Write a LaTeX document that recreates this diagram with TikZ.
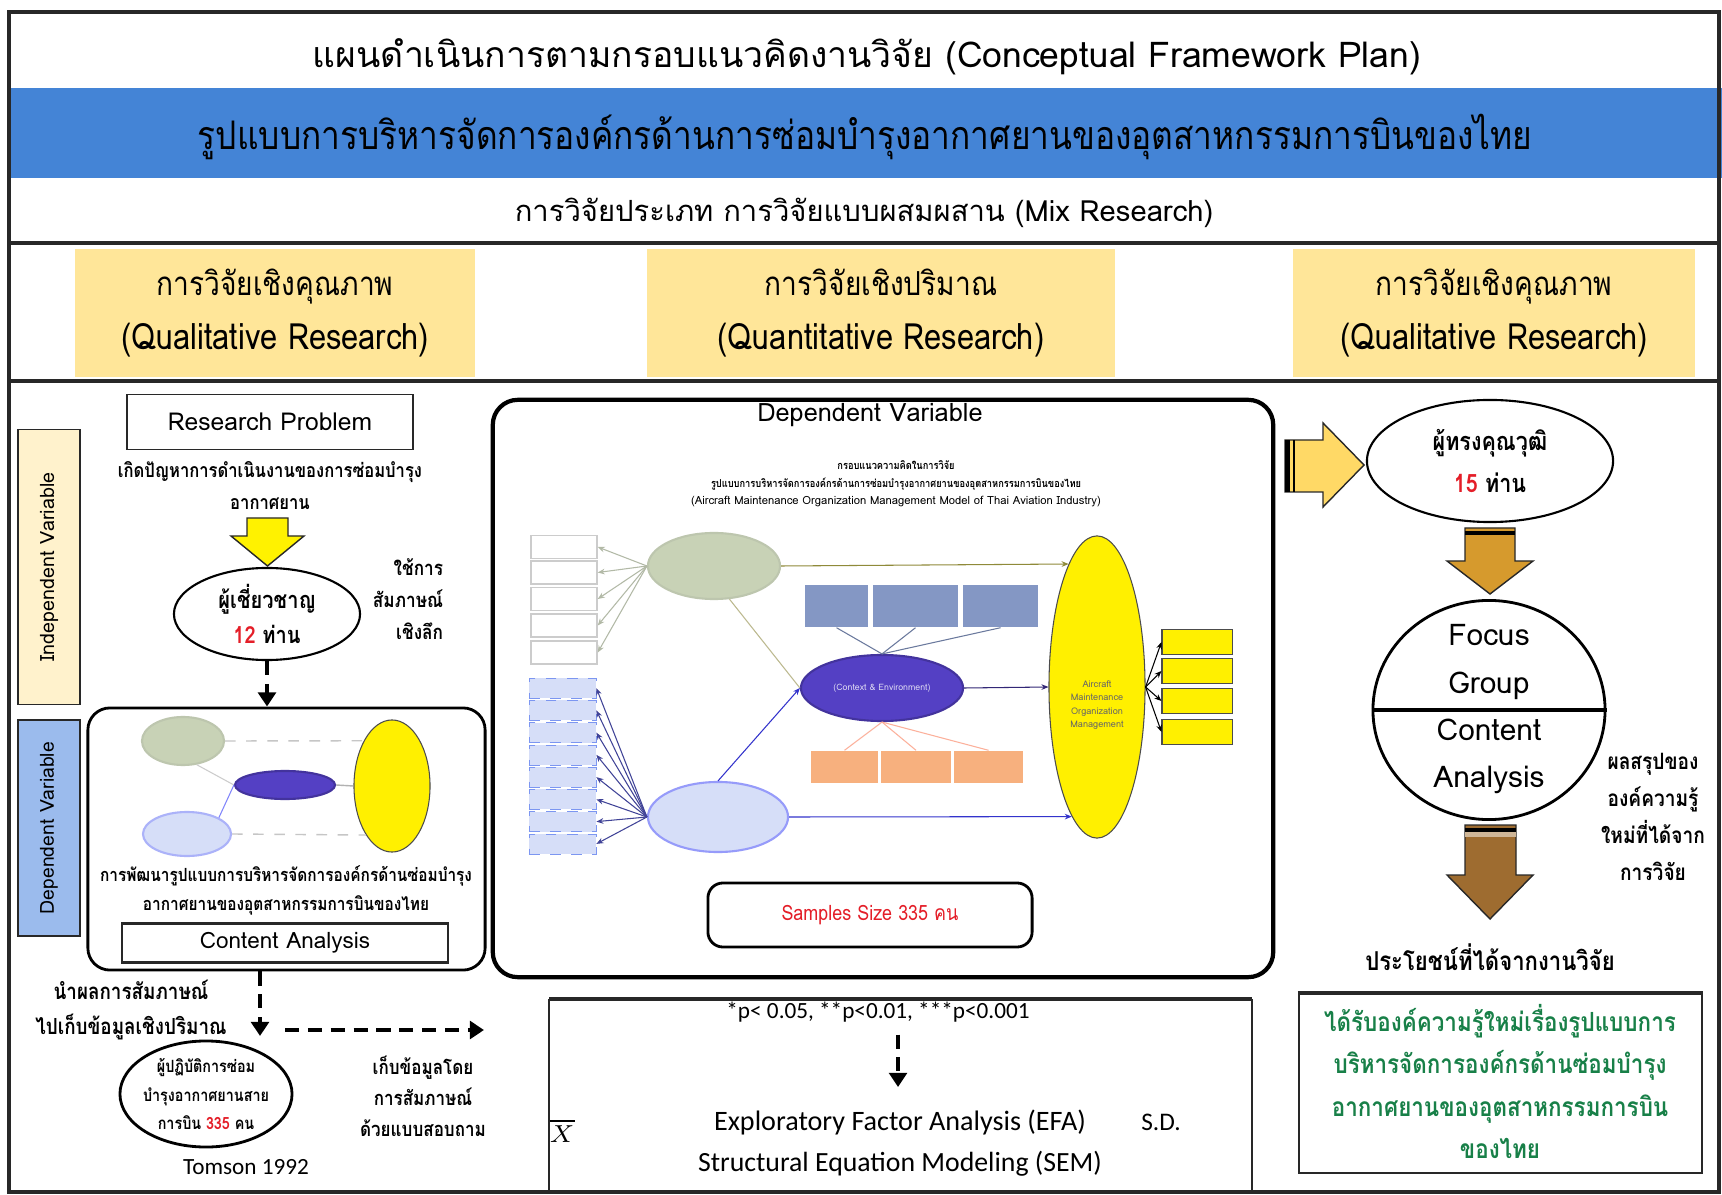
\documentclass[tikz,border=0pt]{standalone}
\usepackage{fontspec}
\setmainfont[Script=Thai]{Loma}
\newfontfamily\narrowthai[Script=Thai,FakeStretch=0.85]{Loma}
\newfontfamily\calfont{Carlito}
\usetikzlibrary{shapes.geometric,arrows.meta,positioning}
\definecolor{bandblue}{RGB}{68,132,214}
\definecolor{headyellow}{RGB}{255,230,153}
\definecolor{indcream}{RGB}{255,242,204}
\definecolor{depblue}{RGB}{155,187,237}
\definecolor{arrowgold}{RGB}{255,217,102}
\definecolor{arroworange}{RGB}{214,154,45}
\definecolor{arrowbrown}{RGB}{158,108,48}
\definecolor{numred}{RGB}{228,30,40}
\definecolor{textgreen}{RGB}{24,128,72}
\definecolor{sage}{RGB}{200,210,182}
\definecolor{ctxviolet}{RGB}{84,64,196}
\definecolor{lavender}{RGB}{214,222,248}
\definecolor{slate}{RGB}{132,151,196}
\definecolor{peach}{RGB}{247,176,126}
\definecolor{brightyellow}{RGB}{255,240,0}
\definecolor{framegray}{RGB}{40,40,40}
\newcommand\fsz[2]{\fontsize{#1}{#2}\selectfont}
\begin{document}
\begin{tikzpicture}[x=0.01cm,y=-0.01cm,
    headbox/.style={fill=headyellow,minimum width=4cm,minimum height=1.27cm,align=center,font=\narrowthai\fsz{10}{15.6}},
    plainbox/.style={draw=framegray,line width=0.5pt,inner sep=0pt},
    oval/.style={ellipse,draw=black,line width=0.6pt,inner sep=0pt},
    dasharrow/.style={line width=1.4pt,dash pattern=on 4pt off 2.5pt,-{Triangle[length=4pt,width=5pt]}},
    miniarrow/.style={line width=0.3pt,-{Stealth[length=2pt,width=1.6pt]}},
    wbox/.style={draw=gray!40,fill=white,minimum width=0.66cm,minimum height=0.23cm,inner sep=0pt},
    bbox/.style={draw=depblue!80!blue,dashed,line width=0.2pt,fill=lavender,minimum width=0.67cm,minimum height=0.2cm,inner sep=0pt},
    sbox/.style={fill=slate,minimum height=0.42cm,inner sep=0pt},
    pbox/.style={fill=peach,minimum height=0.32cm,inner sep=0pt},
    ybox/.style={draw=black!70,line width=0.3pt,fill=brightyellow,minimum width=0.7cm,minimum height=0.25cm,inner sep=0pt},
    blockarrow/.style={draw=framegray,line width=0.4pt}
  ]
  \useasboundingbox (0,0) rectangle (1722,1195);
  \fill[white] (0,0) rectangle (1722,1195);

  %% header rows
  \fill[bandblue] (9,88) rectangle (1722,178);
  \draw[framegray,line width=1pt] (9,12) rectangle (1719,1192);
  \draw[framegray,line width=0.9pt] (9,243) -- (1719,243);
  \draw[framegray,line width=0.9pt] (9,381) -- (1719,381);
  \node (title) at (867,57) {\fsz{10.1}{12}แผนดำเนินการตามกรอบแนวคิดงานวิจัย (Conceptual Framework Plan)};
  \node (topic) at (865,137) {\narrowthai\fsz{11.2}{14}รูปแบบการบริหารจัดการองค์กรด้านการซ่อมบำรุงอากาศยานของอุตสาหกรรมการบินของไทย};
  \node (rtype) at (864,213) {\fsz{8.3}{10}การวิจัยประเภท การวิจัยแบบผสมผสาน (Mix Research)};
  \node[headbox] (qual1) at (275,313) {{\fsz{9.4}{15.6}การวิจัยเชิงคุณภาพ}\\{\fsz{10.3}{15.6}(Qualitative Research)}};
  \node[headbox,minimum width=4.67cm] (quan) at (881,313) {{\fsz{9.4}{15.6}การวิจัยเชิงปริมาณ}\\{\fsz{10.3}{15.6}(Quantitative Research)}};
  \node[headbox,minimum width=4.02cm] (qual2) at (1494,313) {{\fsz{9.4}{15.6}การวิจัยเชิงคุณภาพ}\\{\fsz{10.3}{15.6}(Qualitative Research)}};

  %% left column
  \node[plainbox,fill=indcream,minimum width=0.62cm,minimum height=2.75cm] (indep) at (49,567) {};
  \node[rotate=90,font=\fsz{5.6}{7}] at (indep) {Independent Variable};
  \node[plainbox,fill=depblue,minimum width=0.62cm,minimum height=2.16cm] (dep) at (49,828) {};
  \node[rotate=90,font=\fsz{5.5}{7}] at (dep) {Dependent Variable};
  \node[plainbox,minimum width=2.86cm,minimum height=0.55cm,font=\fsz{7}{8}] (rp) at (270,422) {Research Problem};
  \node[align=center,font=\narrowthai\bfseries\fsz{5.55}{9.1}] (prob) at (270,486) {เกิดปัญหาการดำเนินงานของการซ่อมบำรุง\\อากาศยาน};
  \filldraw[blockarrow,fill=yellow] (247,518) -- (288,518) -- (288,536) -- (304,536) -- (267.5,566) -- (231,536) -- (247,536) -- cycle;
  \node[oval,minimum width=1.86cm,minimum height=0.92cm] (expert) at (267,614) {};
  \node[align=center,font=\narrowthai\bfseries\fsz{6.7}{10}] at (expert) {ผู้เชี่ยวชาญ\\\textcolor{numred}{12} ท่าน};
  \node[align=right,font=\narrowthai\bfseries\fsz{5.75}{9}] (interview) at (408,599) {ใช้การ\\สัมภาษณ์\\เชิงลึก};
  \node[draw=black,line width=0.8pt,rounded corners=0.22cm,minimum width=3.97cm,minimum height=2.62cm] (cbox) at (286.5,839) {};
  \draw[dasharrow] (expert.south) -- (expert.south |- cbox.north);
  %% small model
  \node[oval,draw=sage!85!gray,fill=sage,minimum width=0.82cm,minimum height=0.48cm] (sg2) at (183,741) {};
  \node[oval,draw=ctxviolet!80!black,fill=ctxviolet,minimum width=1cm,minimum height=0.28cm] (pu2) at (285,785) {};
  \node[oval,draw=lavender!80!blue,fill=lavender,minimum width=0.88cm,minimum height=0.44cm] (lv2) at (187,834) {};
  \node[oval,draw=black!70,line width=0.3pt,fill=brightyellow,minimum width=0.76cm,minimum height=1.32cm] (ye2) at (392,786) {};
  \draw[gray!45,line width=0.4pt,dashed] (sg2.east) -- (ye2.122);
  \draw[gray!45,line width=0.4pt,dashed] (lv2.east) -- (ye2.242);
  \draw[gray!40,line width=0.3pt] (sg2.-60) -- (pu2.west);
  \draw[lavender!60!blue,line width=0.3pt] (lv2.north east) -- (pu2.west);
  \draw[gray!60,line width=0.4pt] (pu2.east) -- (ye2.west);
  \node[align=center,font=\narrowthai\bfseries\fsz{5.15}{8.25}] (devtxt) at (286,890) {การพัฒนารูปแบบการบริหารจัดการองค์กรด้านซ่อมบำรุง\\อากาศยานของอุตสาหกรรมการบินของไทย};
  \node[plainbox,line width=0.6pt,minimum width=3.26cm,minimum height=0.39cm,font=\fsz{6.4}{8}] (ca) at (285,943) {Content Analysis};
  %% to the survey
  \node[align=center,font=\narrowthai\bfseries\fsz{6.3}{10}] (sumtxt) at (131,1010) {นำผลการสัมภาษณ์\\ไปเก็บข้อมูลเชิงปริมาณ};
  \coordinate (dropend) at (260,1036);
  \draw[dasharrow] (cbox.south -| dropend) -- (dropend);
  \coordinate (hstart) at (285,1030);
  \coordinate (hend) at (484,1030);
  \draw[dasharrow] (hstart) -- (hend);
  \node[oval,line width=0.8pt,minimum width=1.72cm,minimum height=1.06cm] (oper) at (206,1094) {};
  \node[align=center,font=\narrowthai\bfseries\fsz{4.8}{8}] at (oper) {ผู้ปฏิบัติการซ่อม\\บำรุงอากาศยานสาย\\การบิน \textcolor{numred}{335} คน};
  \node[align=center,font=\narrowthai\bfseries\fsz{5.7}{8.8}] (collect) at (423,1096) {เก็บข้อมูลโดย\\การสัมภาษณ์\\ด้วยแบบสอบถาม};
  \node[font=\calfont\fsz{6.6}{8}] (tomson) at (246,1167) {Tomson 1992};

  %% centre: dependent variable
  \node[draw=black,line width=1.2pt,rounded corners=0.25cm,minimum width=7.8cm,minimum height=5.77cm] (dvbox) at (883,688.5) {};
  \node[font=\fsz{7.2}{8}] (dvtitle) at (870,415) {Dependent Variable};
  \node[align=center,font=\fsz{3.2}{5}] (mtitle) at (896,484) {{\narrowthai\bfseries\fsz{3.1}{5}กรอบแนวความคิดในการวิจัย}\\{\narrowthai\bfseries\fsz{3.1}{5}รูปแบบการบริหารจัดการองค์กรด้านการซ่อมบำรุงอากาศยานของอุตสาหกรรมการบินของไทย}\\(Aircraft Maintenance Organization Management Model of Thai Aviation Industry)};
  \node[oval,draw=sage!85!gray,fill=sage,minimum width=1.32cm,minimum height=0.66cm] (sg) at (714,566) {};
  \node[oval,draw=ctxviolet!80!black,fill=ctxviolet,minimum width=1.62cm,minimum height=0.66cm] (pu) at (882,688) {};
  \node[font=\fsz{2.5}{3},text=white!80!ctxviolet] at (pu) {(Context \& Environment)};
  \node[oval,draw=lavender!70!blue,fill=lavender,minimum width=1.4cm,minimum height=0.7cm] (lv) at (718,817) {};
  \node[oval,draw=black!70,line width=0.3pt,fill=brightyellow,minimum width=0.96cm,minimum height=3.02cm] (ye) at (1097,687) {};
  \node[align=center,font=\fsz{2.6}{3.8},text=black!60] at (1097,705) {Aircraft\\Maintenance\\Organization\\Management};
  \foreach \i/\y in {1/547,2/572.5,3/599,4/625.5,5/652.5} {
    \node[wbox] (w\i) at (564,\y) {};
    \draw[miniarrow,sage!70!gray] (sg.west) -- (w\i.east);
  }
  \foreach \i in {1,...,8} {
    \node[bbox] (b\i) at (562.5,{677+22.25*(\i-0.5)}) {};
    \draw[miniarrow,blue!50!lavender!60!black] (lv.west) -- (b\i.east);
  }
  \node[sbox,minimum width=0.63cm] (sl1) at (836.5,606) {};
  \node[sbox,minimum width=0.85cm] (sl2) at (915.5,606) {};
  \node[sbox,minimum width=0.75cm] (sl3) at (1000.5,606) {};
  \node[pbox,minimum width=0.67cm] (or1) at (844.5,767) {};
  \node[pbox,minimum width=0.70cm] (or2) at (916,767) {};
  \node[pbox,minimum width=0.69cm] (or3) at (988.5,767) {};
  \foreach \i in {1,2,3} {
    \draw[line width=0.3pt,slate!80!black] (pu.north) -- (sl\i.south);
    \draw[line width=0.3pt,peach!70!red!60] (pu.south) -- (or\i.north);
  }
  \foreach \i/\y in {1/642,2/671,3/701,4/732} {
    \node[ybox] (yb\i) at (1197,\y) {};
    \draw[miniarrow,black] (ye.east) -- (yb\i.west);
  }
  \draw[miniarrow,olive!60!gray] (sg.east) -- (ye.103);
  \draw[line width=0.3pt,olive!40!gray!60] (sg.-65) -- (pu.west);
  \draw[miniarrow,blue!60!gray] (lv.north) -- (pu.west);
  \draw[miniarrow,blue!60!gray] (lv.east) -- (ye.259);
  \draw[miniarrow,ctxviolet!60!black] (pu.east) -- (ye.west);
  \node[draw=black,line width=0.8pt,rounded corners=0.15cm,minimum width=3.24cm,minimum height=0.64cm,font=\narrowthai\fsz{6}{8},text=numred] (samples) at (870,915) {Samples Size 335 คน};

  %% centre: statistics
  \draw[framegray,line width=0.5pt] (549,1192) -- (549,999);
  \draw[framegray,line width=1pt] (549,999) -- (1252,999);
  \draw[framegray,line width=0.5pt] (1252,999) -- (1252,1192);
  \node[font=\calfont\fsz{6.6}{8}] (pval) at (878,1012) {*p< 0.05, **p<0.01, ***p<0.001};
  \node[font=\calfont\fsz{8}{8}] (efa) at (900,1122) {Exploratory Factor Analysis (EFA)};
  \node[font=\calfont\fsz{7.9}{8}] (sem) at (900,1164) {Structural Equation Modeling (SEM)};
  \node[font=\fsz{7.5}{8}] (xbar) at (562,1131) {$\overline{X}$};
  \node[font=\calfont\fsz{7.2}{8}] (sd) at (1161,1122) {S.D.};
  \coordinate (pdrop) at (898,1087);
  \draw[dasharrow,line width=1.2pt] (pdrop |- pval.south) -- (pdrop);

  %% right column
  \filldraw[blockarrow,fill=arrowgold] (1285,440) -- (1323,440) -- (1323,423) -- (1364,465) -- (1323,507) -- (1323,492) -- (1285,492) -- cycle;
  \fill[black] (1285,440) rectangle (1289.5,492);
  \fill[black] (1292.5,440) rectangle (1295,492);
  \node[oval,minimum width=2.46cm,minimum height=1.22cm] (quali) at (1490,461) {};
  \node[align=center,font=\narrowthai\bfseries\fsz{7.2}{12}] at (quali) {ผู้ทรงคุณวุฒิ\\\textcolor{numred}{15} ท่าน};
  \node[oval,line width=0.8pt,minimum width=2.32cm,minimum height=2.19cm] (fg) at (1489,710) {};
  \draw[line width=1.4pt] (fg.west) -- (fg.east);
  \node[align=center,font=\fsz{8.5}{13.4}] (focus) at (1489,662) {Focus\\Group};
  \node[align=center,font=\fsz{8.5}{13.4}] (canal) at (1489,756) {Content\\Analysis};
  \filldraw[blockarrow,fill=arroworange] (1465,528) -- (1515,528) -- (1515,561) -- (1533,561) -- (1490,594) -- (1447,561) -- (1465,561) -- cycle;
  \fill[black] (1465,531) rectangle (1515,535);
  \filldraw[blockarrow,fill=arrowbrown] (1465,825) -- (1516,825) -- (1516,875) -- (1533,875) -- (1490,919) -- (1447,875) -- (1465,875) -- cycle;
  \fill[black] (1465,828) rectangle (1516,832);
  \fill[arrowbrown!50!white] (1465,832) rectangle (1516,837);
  \node[align=center,font=\narrowthai\bfseries\fsz{6.4}{10.5}] (result) at (1653,817) {ผลสรุปของ\\องค์ความรู้\\ใหม่ที่ได้จาก\\การวิจัย};
  \node[font=\narrowthai\bfseries\fsz{7.4}{9}] (benefit) at (1490,957) {ประโยชน์ที่ได้จากงานวิจัย};
  \node[draw=framegray,line width=0.6pt,minimum width=4.03cm,minimum height=1.79cm] (gbox) at (1500.5,1083.5) {};
  \draw[framegray,line width=1.2pt] (gbox.north west) -- (gbox.north east);
  \node[align=center,text=textgreen,font=\narrowthai\bfseries\fsz{7.5}{12}] at (1500,1081.5) {ได้รับองค์ความรู้ใหม่เรื่องรูปแบบการ\\บริหารจัดการองค์กรด้านซ่อมบำรุง\\อากาศยานของอุตสาหกรรมการบิน\\ของไทย};
\end{tikzpicture}
\end{document}
